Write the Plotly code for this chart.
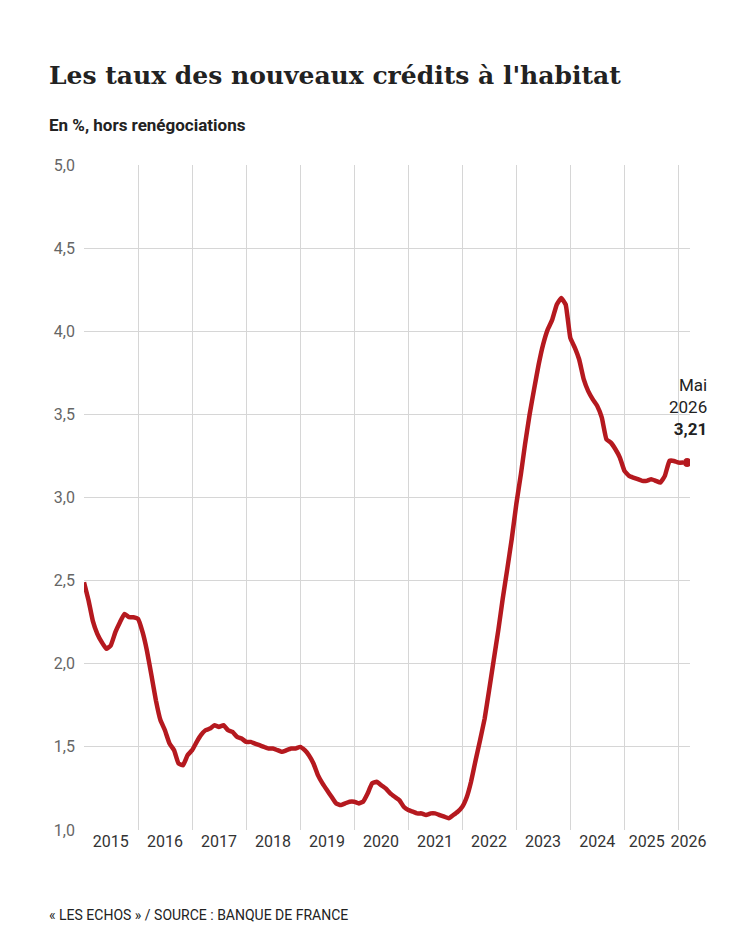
import pandas as pd
import plotly.graph_objects as go

dates = pd.date_range("2015-01-01", "2026-03-01", freq="MS")
rates = [
 2.49, 2.38, 2.26, 2.18, 2.13, 2.09, 2.11, 2.19, 2.25, 2.30, 2.28, 2.28,
 2.27, 2.19, 2.08, 1.93, 1.78, 1.66, 1.60, 1.52, 1.48, 1.40, 1.39, 1.45,
 1.48, 1.53, 1.57, 1.60, 1.61, 1.63, 1.62, 1.63, 1.60, 1.59, 1.56, 1.55,
 1.53, 1.53, 1.52, 1.51, 1.50, 1.49, 1.49, 1.48, 1.47, 1.48, 1.49, 1.49,
 1.50, 1.48, 1.45, 1.40, 1.33, 1.28, 1.24, 1.20, 1.16, 1.15, 1.16, 1.17,
 1.17, 1.16, 1.17, 1.22, 1.28, 1.29, 1.27, 1.25, 1.22, 1.20, 1.18, 1.14,
 1.12, 1.11, 1.10, 1.10, 1.09, 1.10, 1.10, 1.09, 1.08, 1.07, 1.09, 1.11,
 1.14, 1.20, 1.29, 1.42, 1.54, 1.67, 1.84, 2.02, 2.20, 2.39, 2.57, 2.75,
 2.96, 3.14, 3.32, 3.50, 3.65, 3.80, 3.92, 4.01, 4.07, 4.16, 4.20, 4.16,
 3.96, 3.90, 3.83, 3.71, 3.64, 3.59, 3.55, 3.48, 3.35, 3.33, 3.29, 3.24,
 3.16, 3.13, 3.12, 3.11, 3.10, 3.10, 3.11, 3.10, 3.09, 3.13, 3.22, 3.22,
 3.21, 3.21, 3.21,
]
year_labels = [str(y) for y in range(2015, 2027)]
year_pos = [f"{y}-07-01" for y in range(2015, 2025)] + ["2025-06-01", "2026-03-10"]
y_ticks = [1.0, 1.5, 2.0, 2.5, 3.0, 3.5, 4.0, 4.5, 5.0]
RED = "#b5191f"

fig = go.Figure()
fig.add_trace(go.Scatter(x=dates[:-1], y=rates[:-1], mode="lines",
                         line=dict(color=RED, width=4.5, shape="spline", smoothing=0.3),
                         hoverinfo="skip"))
fig.add_trace(go.Scatter(x=[dates[-1]], y=[rates[-1]], mode="markers",
                         marker=dict(color=RED, size=9), hoverinfo="skip"))
fig.add_annotation(x=dates[-1], y=rates[-1], text="Mai<br>2026<br><b>3,21</b>",
                   showarrow=False, xanchor="right", yanchor="bottom", align="right",
                   yshift=22, xshift=22, font=dict(size=17, color="#222"))
fig.update_layout(
    width=750, height=938, plot_bgcolor="white", paper_bgcolor="white",
    showlegend=False, separators=",.",
    font=dict(family="Roboto, Inter, sans-serif", color="#333"),
    margin=dict(l=76, r=68, t=157, b=116, autoexpand=False),
    xaxis=dict(range=["2015-01-01", "2026-03-20"], tickvals=year_pos, ticktext=year_labels,
               showgrid=False, ticks="", tickangle=0, tickfont=dict(size=16, color="#333"),
               minor=dict(dtick="M12", tick0="2015-01-01", showgrid=True,
                          gridcolor="#d6d6d6", gridwidth=1),
               zeroline=False, showline=False, automargin=False),
    yaxis=dict(range=[1.0, 5.0], tickvals=y_ticks, tickformat=".1f",
               gridcolor="#d6d6d6", tickfont=dict(size=16, color="#666"),
               zeroline=False, showline=False, ticks="", ticklabelstandoff=8,
               automargin=False),
)
fig.add_annotation(xref="paper", yref="paper", x=-0.061, y=1.135, xanchor="left", yanchor="middle",
                   showarrow=False, text="<b>Les taux des nouveaux crédits à l'habitat</b>",
                   font=dict(family="DejaVu Serif, serif", size=25, color="#222"))
fig.add_annotation(xref="paper", yref="paper", x=-0.061, y=1.060, xanchor="left", yanchor="middle",
                   showarrow=False, text="<b>En %, hors renégociations</b>",
                   font=dict(size=17, color="#222"))
fig.add_annotation(xref="paper", yref="paper", x=-0.061, y=-0.128, xanchor="left", yanchor="middle",
                   showarrow=False, text="« LES ECHOS » / SOURCE : BANQUE DE FRANCE",
                   font=dict(size=14, color="#222"))
fig.write_html("out.html")
